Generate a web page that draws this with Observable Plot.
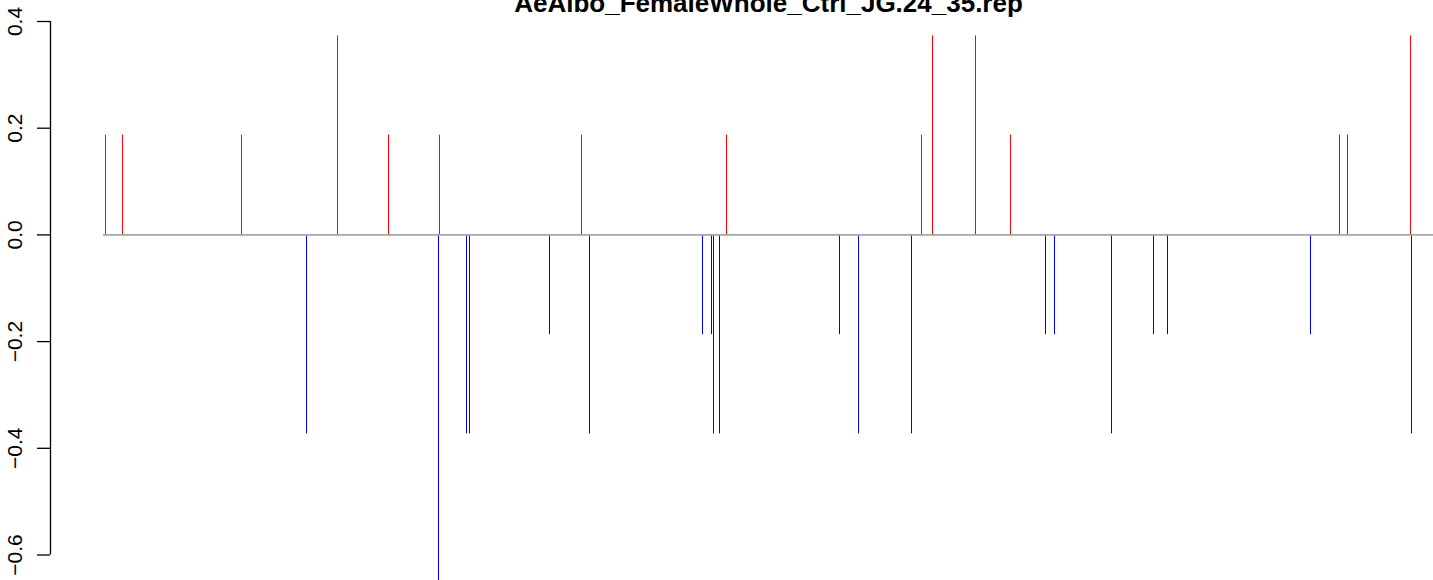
<!DOCTYPE html>
<html>
<head>
<meta charset="utf-8">
<script src="https://cdn.jsdelivr.net/npm/d3@7"></script>
<script src="https://cdn.jsdelivr.net/npm/@observablehq/plot@0.6"></script>
<style>
  html, body { margin: 0; padding: 0; background: #fff; overflow: hidden; }
  #chart svg { overflow: hidden; display: block; }
</style>
</head>
<body>
<div id="chart"></div>
<script>
// Title
const title = "AeAlbo_FemaleWhole_Ctrl_JG.24_35.rep";

// Positive (red) signal: positions and values
const plusPos = [105, 122, 241, 337, 388, 439, 581, 726, 921, 932, 975, 1010, 1339, 1347, 1410];
const plusVal = [0.187, 0.187, 0.187, 0.373, 0.187, 0.187, 0.187, 0.187, 0.187, 0.373, 0.373, 0.187, 0.187, 0.187, 0.373];

// Negative (blue) signal: positions and values
const minusPos = [306, 438, 466, 469, 549, 589, 702, 711, 713, 719, 839, 858, 911, 1045, 1054, 1111, 1153, 1167, 1310, 1411];
const minusVal = [-0.373, -0.746, -0.373, -0.373, -0.187, -0.373, -0.187, -0.187, -0.373, -0.373, -0.187, -0.373, -0.373, -0.187, -0.187, -0.373, -0.187, -0.187, -0.187, -0.373];

// Y axis tick values and labels
const yTicks = [-0.6, -0.4, -0.2, 0.0, 0.2, 0.4];
const yTickLabels = ["\u22120.6", "\u22120.4", "\u22120.2", "0.0", "0.2", "0.4"];

// Extent of the zero baseline and axis position (position units)
const baseStart = 103;
const baseEnd = 1433;
const axisPos = 50;
const tickPos = 37;
const labelPos = 21;

const plus = plusPos.map((p, i) => ({pos: p, val: plusVal[i]}));
const minus = minusPos.map((p, i) => ({pos: p, val: minusVal[i]}));
const ticks = yTicks.map((v, i) => ({v, label: yTickLabels[i]}));

const font = "'Liberation Sans', Arial, Helvetica, sans-serif";

const chart = Plot.plot({
  width: 1433,
  height: 580,
  margin: 0,
  style: {fontFamily: font, background: "#fff", overflow: "hidden"},
  x: {domain: [0, 1433], range: [0, 1433], axis: null},
  y: {domain: [-0.6, 0.4], range: [554.5, 21], axis: null},
  marks: [
    Plot.ruleX(plus, {x: "pos", y1: 0, y2: "val", stroke: "#ff0000", strokeWidth: 1}),
    Plot.ruleX(minus, {x: "pos", y1: 0, y2: "val", stroke: "#0000ff", strokeWidth: 1}),
    Plot.ruleY([0], {x1: baseStart, x2: baseEnd, stroke: "#a6a6a6", strokeWidth: 1.6}),
    // y axis line
    Plot.ruleX([axisPos], {y1: -0.6, y2: 0.4, stroke: "#000", strokeWidth: 1.3}),
    // tick marks
    Plot.ruleY(ticks, {y: "v", x1: tickPos, x2: axisPos, stroke: "#000", strokeWidth: 1.3}),
    // tick labels
    Plot.text(ticks, {x: labelPos, y: "v", text: "label", rotate: -90, lineAnchor: "bottom",
      fontSize: 21, fill: "#000", fontFamily: font}),
    // title
    Plot.text([title], {frameAnchor: "top", dx: 51.5, dy: 11, lineAnchor: "bottom",
      fontSize: 26, fontWeight: "bold", fill: "#000", fontFamily: font})
  ]
});
document.getElementById("chart").appendChild(chart);
</script>
</body>
</html>
